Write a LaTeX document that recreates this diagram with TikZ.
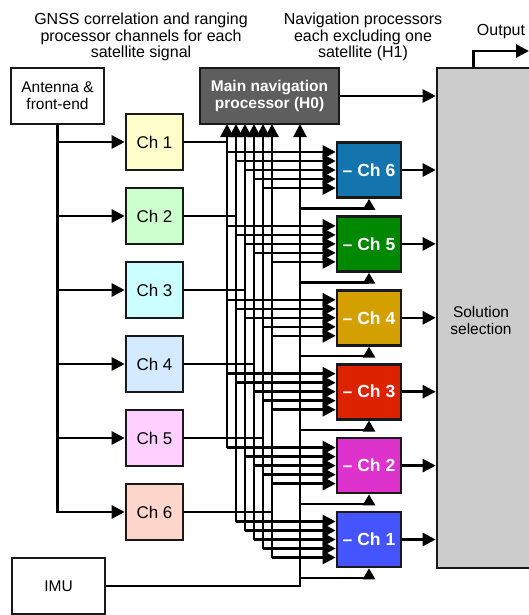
\documentclass[tikz,border=0pt]{standalone}
\usepackage{fontspec}
\setmainfont{Liberation Sans}
\usetikzlibrary{arrows.meta,calc}
\definecolor{c1}{HTML}{FFFFCC}
\definecolor{c2}{HTML}{CCFFCC}
\definecolor{c3}{HTML}{CCFFFF}
\definecolor{c4}{HTML}{D4EBFF}
\definecolor{c5}{HTML}{FFD0FF}
\definecolor{c6}{HTML}{FFD6CC}
\definecolor{h1}{HTML}{4455FF}
\definecolor{h2}{HTML}{DD33CC}
\definecolor{h3}{HTML}{DD2200}
\definecolor{h4}{HTML}{D4A000}
\definecolor{h5}{HTML}{008800}
\definecolor{h6}{HTML}{1475AE}
\definecolor{mnpgray}{HTML}{5E5E5E}
\definecolor{solgray}{HTML}{CCCCCC}
\begin{document}
\begin{tikzpicture}[x=1pt,y=-1pt,line width=2.6pt,
  txt/.style={font=\fontsize{15.5}{17}\selectfont,align=center,inner sep=0pt},
  box/.style={draw=black!90,line width=2.6pt,inner sep=0pt,align=center,font=\fontsize{15.5}{17}\selectfont},
  chbox/.style={box,minimum width=57pt,minimum height=56pt,font=\fontsize{17}{19}\selectfont},
  hbox/.style={box,minimum width=64pt,minimum height=55pt,text=white,font=\fontsize{17.5}{19}\selectfont\bfseries},
  arr/.style={-{Triangle[length=13pt,width=13pt]}},
  arrs/.style={-{Triangle[length=11pt,width=12pt]}}]
\useasboundingbox (0,0) rectangle (529,615);
\clip (0,0) rectangle (529,615);
% titles
\node[txt,font=\fontsize{16}{16.5}\selectfont] (t1) at (141,37) {GNSS correlation and ranging\\processor channels for each\\satellite signal};
\node[txt,font=\fontsize{16}{16.5}\selectfont] (t2) at (363,37) {Navigation processors\\each excluding one\\satellite (H1)};
\node[txt,anchor=base,font=\fontsize{16}{16.5}\selectfont] (t3) at (501,36) {Output};
% boxes
\node[box,minimum width=93pt,minimum height=56pt,fill=white] (ant) at (57.5,96) {Antenna \&\\front-end};
\node[box,minimum width=93pt,minimum height=56pt,fill=white] (imu) at (58.5,586) {IMU};
\node[box,minimum width=139pt,minimum height=56pt,fill=mnpgray,text=white,font=\fontsize{15.5}{17}\selectfont\bfseries] (mnp) at (269.5,96) {Main navigation\\processor (H0)};
\node[box,minimum width=103pt,minimum height=500pt,fill=solgray] (sol) at (488.5,318) {};
\node[txt] (soltxt) at (481,320) {Solution\\selection};
\foreach \k in {1,...,6}{
  \node[chbox,fill=c\k] (ch\k) at (154.5,{142+74*(\k-1)}) {Ch \k};
  \node[hbox,fill=h\k] (h\k) at (369,{170+73.9*(6-\k)}) {-- Ch \k};
  \coordinate (b\k) at ({227+9*(\k-1)},124);
}
\coordinate (bi) at (300,124);
% antenna distribution
\draw[arr] (ant.south) |- (ch6.west);
\foreach \k in {1,...,5}{\draw[arr] (ant.south |- ch\k.west) -- (ch\k.west);}
% channel outputs into buses
\foreach \k in {1,...,6}{\draw (ch\k.east) -- (ch\k.east -| b\k);}
% bus branches to H1 processors
\foreach \j in {1,...,6}{
  \foreach \k in {1,...,6}{
    \ifnum\k=\j\relax\else
      \pgfmathtruncatemacro{\idx}{\k<\j ? \k-1 : \k-2}
      \coordinate (in-\j-\k) at ($(h\j.west)+(0,{9*(\idx-2)})$);
      \draw[arr] (b\k |- in-\j-\k) -- (in-\j-\k);
    \fi
  }
}
% buses up to main navigation processor
\draw[arr] (b1 |- in-2-1) -- (b1);
\foreach \k in {2,...,6}{\draw[arr] (b\k |- in-1-\k) -- (b\k);}
% IMU
\draw[arr] (imu.east) -| (bi);
\foreach \j in {1,...,6}{
  \coordinate (u\j) at ($(h\j.south)+(0,9.5)$);
  \draw[arrs] (bi |- u\j) -- (u\j) -- (h\j.south);
}
% outputs to solution selection
\foreach \j in {1,...,6}{\draw[arr] (h\j.east) -- (h\j.east -| sol.west);}
\draw[arr] (mnp.east) -- (mnp.east -| sol.west);
\coordinate (o1) at ($(sol.north west)+(38,0)$);
\coordinate (out) at (529,51);
\draw[arr] (o1) |- (out);
\end{tikzpicture}
\end{document}
